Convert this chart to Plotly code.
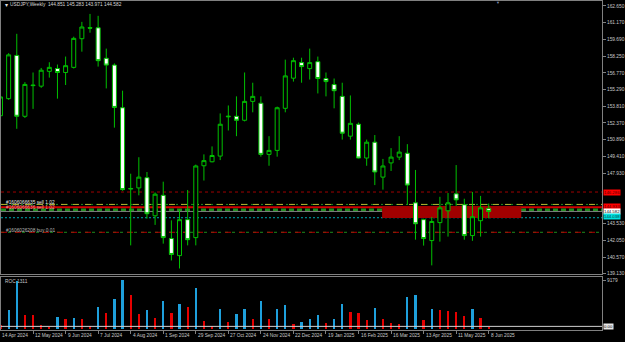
import plotly.graph_objects as go

# ---------------- data ----------------
week_idx = list(range(61))  # weekly candles, 14 Apr 2024 .. 8 Jun 2025

opens = [153.00, 154.50, 158.30, 152.95, 155.70, 155.60, 156.90, 157.15, 156.80, 157.25,
         159.77, 160.75, 160.73, 158.05, 157.45, 153.70, 146.55, 146.65, 147.55, 144.20,
         146.00, 142.20, 140.70, 143.86, 142.28, 148.60, 148.95, 149.45, 152.90, 152.95,
         152.60, 154.26, 154.10, 149.60, 149.95, 153.65, 156.30, 157.67, 157.14, 157.75,
         156.27, 155.74, 154.70, 151.20, 152.25, 149.28, 150.67, 147.60, 148.85, 149.36,
         149.70, 145.34, 143.86, 142.02, 143.60, 144.64, 146.13, 145.17, 142.46, 143.77,
         144.851]
highs = [154.80, 158.50, 160.20, 155.95, 156.80, 157.20, 157.70, 157.50, 158.20, 159.95,
         161.25, 161.95, 161.78, 158.90, 157.60, 155.20, 147.90, 149.35, 148.05, 146.25,
         147.20, 143.80, 144.80, 146.47, 148.70, 149.60, 150.30, 153.20, 153.90, 154.70,
         156.80, 155.90, 154.70, 151.20, 153.80, 157.93, 158.10, 158.10, 158.90, 158.20,
         156.80, 156.27, 155.90, 154.78, 152.40, 150.90, 151.30, 149.20, 150.15, 151.20,
         150.50, 148.23, 143.95, 144.10, 145.87, 146.20, 148.66, 145.70, 146.30, 145.95,
         145.283]
lows = [152.90, 154.40, 151.85, 152.80, 153.60, 155.45, 156.35, 154.50, 155.70, 157.15,
        158.63, 160.30, 157.32, 155.40, 151.95, 146.40, 141.60, 146.00, 143.95, 143.40,
        141.75, 140.27, 139.57, 141.60, 141.60, 147.30, 148.90, 149.10, 151.70, 151.20,
        152.50, 153.30, 149.40, 148.60, 149.40, 153.30, 156.00, 155.90, 156.18, 154.96,
        154.70, 153.65, 150.90, 150.90, 149.25, 148.60, 146.90, 146.50, 148.14, 149.10,
        145.20, 142.10, 141.58, 139.84, 141.93, 142.37, 145.08, 142.10, 142.00, 142.37,
        143.971]
closes = [154.65, 158.35, 152.95, 155.75, 155.65, 157.00, 157.25, 156.80, 157.40, 159.80,
          160.80, 160.70, 157.84, 157.45, 153.73, 146.50, 146.60, 147.60, 144.38, 146.10,
          142.28, 140.80, 143.86, 142.10, 148.58, 149.05, 149.50, 152.25, 152.95, 152.60,
          154.26, 154.70, 149.60, 149.95, 153.70, 156.50, 157.84, 157.32, 157.67, 156.27,
          156.00, 155.20, 151.46, 152.33, 149.28, 150.67, 148.05, 148.58, 149.36, 149.80,
          146.90, 143.50, 142.20, 143.70, 144.90, 145.34, 145.60, 142.46, 144.12, 144.90,
          144.582]

roc_values = [830, 3650, 8890, 2545, 2620, 775, 460, 2305, 1805, 1990,
              1805, 645, 4095, 2985, 5625, 9179, 6305, 2800, 3595, 2120,
              5310, 2985, 4700, 4150, 7650, 1510, 515, 3780, 1330, 2860,
              3725, 1935, 5200, 1880, 3725, 4520, 885, 1330, 1935, 2675,
              1145, 1880, 4760, 3225, 3040, 1695, 3965, 1935, 1200, 1015,
              5940, 6305, 1750, 3780, 3540, 3355, 3225, 2490, 3780, 2065,
              405]
roc_up = [0, 1, 1, 0, 0, 0, 0, 1, 0, 1,
          0, 0, 1, 0, 1, 1, 0, 0, 1, 0,
          1, 0, 1, 0, 1, 0, 0, 1, 0, 1,
          1, 0, 1, 0, 1, 1, 0, 1, 1, 1,
          0, 1, 1, 0, 0, 0, 1, 0, 0, 0,
          1, 1, 0, 1, 0, 0, 0, 0, 1, 0,
          0]
roc_level = 590

date_tick_idx = [0, 4, 8, 12, 16, 20, 24, 28, 32, 36, 40, 44, 48, 52, 56, 60]
date_tick_labels = ["14 Apr 2024", "12 May 2024", "9 Jun 2024", "7 Jul 2024", "4 Aug 2024",
                    "1 Sep 2024", "29 Sep 2024", "27 Oct 2024", "24 Nov 2024", "22 Dec 2024",
                    "19 Jan 2025", "16 Feb 2025", "16 Mar 2025", "13 Apr 2025", "11 May 2025",
                    "8 Jun 2025"]
# (146.450 and 144.970 are hidden behind the coloured price labels in the reference)
price_ticks = [162.650, 161.170, 159.690, 158.250, 156.770, 155.290, 153.810, 152.370,
               150.890, 149.410, 147.930, 143.530, 142.050, 140.570, 139.130]

# horizontal levels
lvl_sl = 146.29       # dark red dotted
lvl_tp_a = 145.20     # olive dash-dot
lvl_sell = 144.95     # solid red
lvl_green = 144.70    # green dashed
lvl_bid = 144.582     # gray bid line
lvl_cyan = 144.03     # cyan dotted
lvl_buy = 142.75      # red/green dash-dot
zone_x = [46.9, 64.0]
zone_y = [144.00, 145.00]

right_labels = [("146.286", 146.29, "#ff0000", "#5a0000"),
                ("144.933", 144.99, "#ff0000", "#5a0000"),
                ("144.582", 144.582, "#ffffff", "#000000"),
                ("144.038", 144.10, "#00e0e0", "#003838")]
order_labels = [("#1606066635 sell 1.02", 145.33, "#e8e8e8"),
                ("#1606066636 sell 1.02", 144.90, "#ff9a9a"),
                ("#1606026208 buy 0.01", 142.92, "#b8b8b8")]

# ---------------- figure ----------------
W, H = 625, 342
FONT = "Liberation Sans"
FS = 4.8
GRID = "#808080"
TXT = "#c8c8c8"
GREEN = "#00c000"
spacing = 8.15          # pixels per weekly bar
first_px = 0.5          # pixel centre of first bar

def py(p):
    return 1 - p / H

fig = go.Figure()

fig.add_trace(go.Candlestick(
    x=week_idx, open=opens, high=highs, low=lows, close=closes,
    increasing=dict(line=dict(color=GREEN, width=1), fillcolor="#000000"),
    decreasing=dict(line=dict(color=GREEN, width=1), fillcolor="#ffffff"),
    whiskerwidth=0, xaxis="x", yaxis="y", showlegend=False, hoverinfo="skip"))

fig.add_trace(go.Bar(
    x=week_idx, y=roc_values,
    marker=dict(color=["#1ea0dc" if u else "#e60000" for u in roc_up], line=dict(width=0)),
    width=0.28, xaxis="x2", yaxis="y2", showlegend=False, hoverinfo="skip"))

x0 = (1 - first_px) / spacing
x1 = x0 + 602 / spacing

axis_common = dict(showline=True, linecolor=GRID, linewidth=1, mirror=True,
                   showgrid=False, zeroline=False)

fig.update_layout(
    width=W, height=H, margin=dict(l=0, r=0, t=0, b=0),
    paper_bgcolor="#000000", plot_bgcolor="#000000",
    font=dict(family=FONT, size=FS, color=TXT),
    showlegend=False, bargap=0,
    xaxis=dict(domain=[1 / W, 603 / W], range=[x0, x1], anchor="y",
               showticklabels=False, ticks="", rangeslider=dict(visible=False),
               **axis_common),
    xaxis2=dict(domain=[1 / W, 603 / W], range=[x0, x1], anchor="y2", matches="x",
                tickvals=date_tick_idx, ticks="outside", ticklen=3, tickcolor=GRID,
                showticklabels=False, **axis_common),
    yaxis=dict(domain=[py(276), py(1)], range=[139.048, 163.087], side="right",
               anchor="x", tickvals=price_ticks,
               ticktext=[f"{v:.3f}" for v in price_ticks],
               ticks="outside", ticklen=3, tickcolor=GRID,
               tickfont=dict(family=FONT, size=FS, color=TXT), **axis_common),
    yaxis2=dict(domain=[py(331.5), py(279)], range=[0, 9680], side="right",
                anchor="x2", tickvals=[9179], ticktext=["9179"],
                ticks="outside", ticklen=3, tickcolor=GRID,
                tickfont=dict(family=FONT, size=FS, color=TXT), **axis_common),
)

shapes = []
# red zone
shapes.append(dict(type="rect", xref="x", yref="y", x0=zone_x[0], x1=zone_x[1],
                   y0=zone_y[0], y1=zone_y[1], fillcolor="#a00000",
                   line=dict(width=0), layer="below"))

def hline(y, color, width, dash, yref="y"):
    shapes.append(dict(type="line", xref="x domain", yref=yref, x0=0, x1=1, y0=y, y1=y,
                       line=dict(color=color, width=width, dash=dash), layer="below"))

hline(lvl_sl, "#a00000", 1, "dot")
hline(lvl_tp_a, "#1e8c1e", 1, "2px,3px")
hline(lvl_tp_a, "#b4b432", 1, "6px,6px")
hline(lvl_sell, "#d00000", 2, "solid")
hline(lvl_green, "#1e8c1e", 3, "5px,3px")
hline(lvl_bid, "#808080", 1, "solid")
hline(lvl_cyan, "#00a8b0", 1, "2px,2px")
hline(lvl_buy, "#1e8c1e", 1, "3px,4px")
hline(lvl_buy, "#b40000", 1, "6px,8px")
shapes.append(dict(type="line", xref="x2 domain", yref="y2", x0=0, x1=1,
                   y0=roc_level, y1=roc_level, line=dict(color="#d0d0d0", width=1)))
fig.update_layout(shapes=shapes)

ann = []
# title
ann.append(dict(xref="paper", yref="paper", x=3 / W, y=py(5), text="▾", showarrow=False,
                xanchor="left", yanchor="middle", font=dict(size=6, color="#e0e0e0")))
ann.append(dict(xref="paper", yref="paper", x=8 / W, y=py(5),
                text="USDJPY,Weekly  144.851 145.283 143.971 144.582", showarrow=False,
                xanchor="left", yanchor="middle", font=dict(size=FS, color="#d8d8d8")))
# chart shift marker
ann.append(dict(xref="paper", yref="paper", x=499 / W, y=py(3), text="▼", showarrow=False,
                xanchor="center", yanchor="middle", font=dict(size=4, color="#7f8fb0")))
# indicator label
ann.append(dict(xref="paper", yref="paper", x=3 / W, y=py(283), text="ROC 1311",
                showarrow=False, xanchor="left", yanchor="middle",
                font=dict(size=FS, color=TXT)))
# date labels (left-aligned at their tick, like the terminal does)
for i, lab in zip(date_tick_idx, date_tick_labels):
    px = 1 + (i - x0) * spacing
    ann.append(dict(xref="paper", yref="paper", x=max(px, 0) / W, y=py(337.5), text=lab,
                    showarrow=False, xanchor="left", yanchor="middle",
                    font=dict(size=FS, color=TXT)))
# right price labels
for txt, yv, bg, fc in right_labels:
    ann.append(dict(xref="paper", yref="y", x=604 / W, y=yv, text=txt, showarrow=False,
                    xanchor="left", yanchor="middle", bgcolor=bg, borderpad=0,
                    font=dict(size=4.3, color=fc)))
# sub-panel bottom label
ann.append(dict(xref="paper", yref="y2", x=604 / W, y=roc_level, text="0.00",
                showarrow=False, xanchor="left", yanchor="middle", bgcolor="#e8e8e8",
                borderpad=0, font=dict(size=4.3, color="#000000")))
# order labels
for txt, yv, fc in order_labels:
    ann.append(dict(xref="paper", yref="y", x=4 / W, y=yv, text=txt, showarrow=False,
                    xanchor="left", yanchor="middle", font=dict(size=FS, color=fc)))
fig.update_layout(annotations=ann)

fig.write_html("out.html")
